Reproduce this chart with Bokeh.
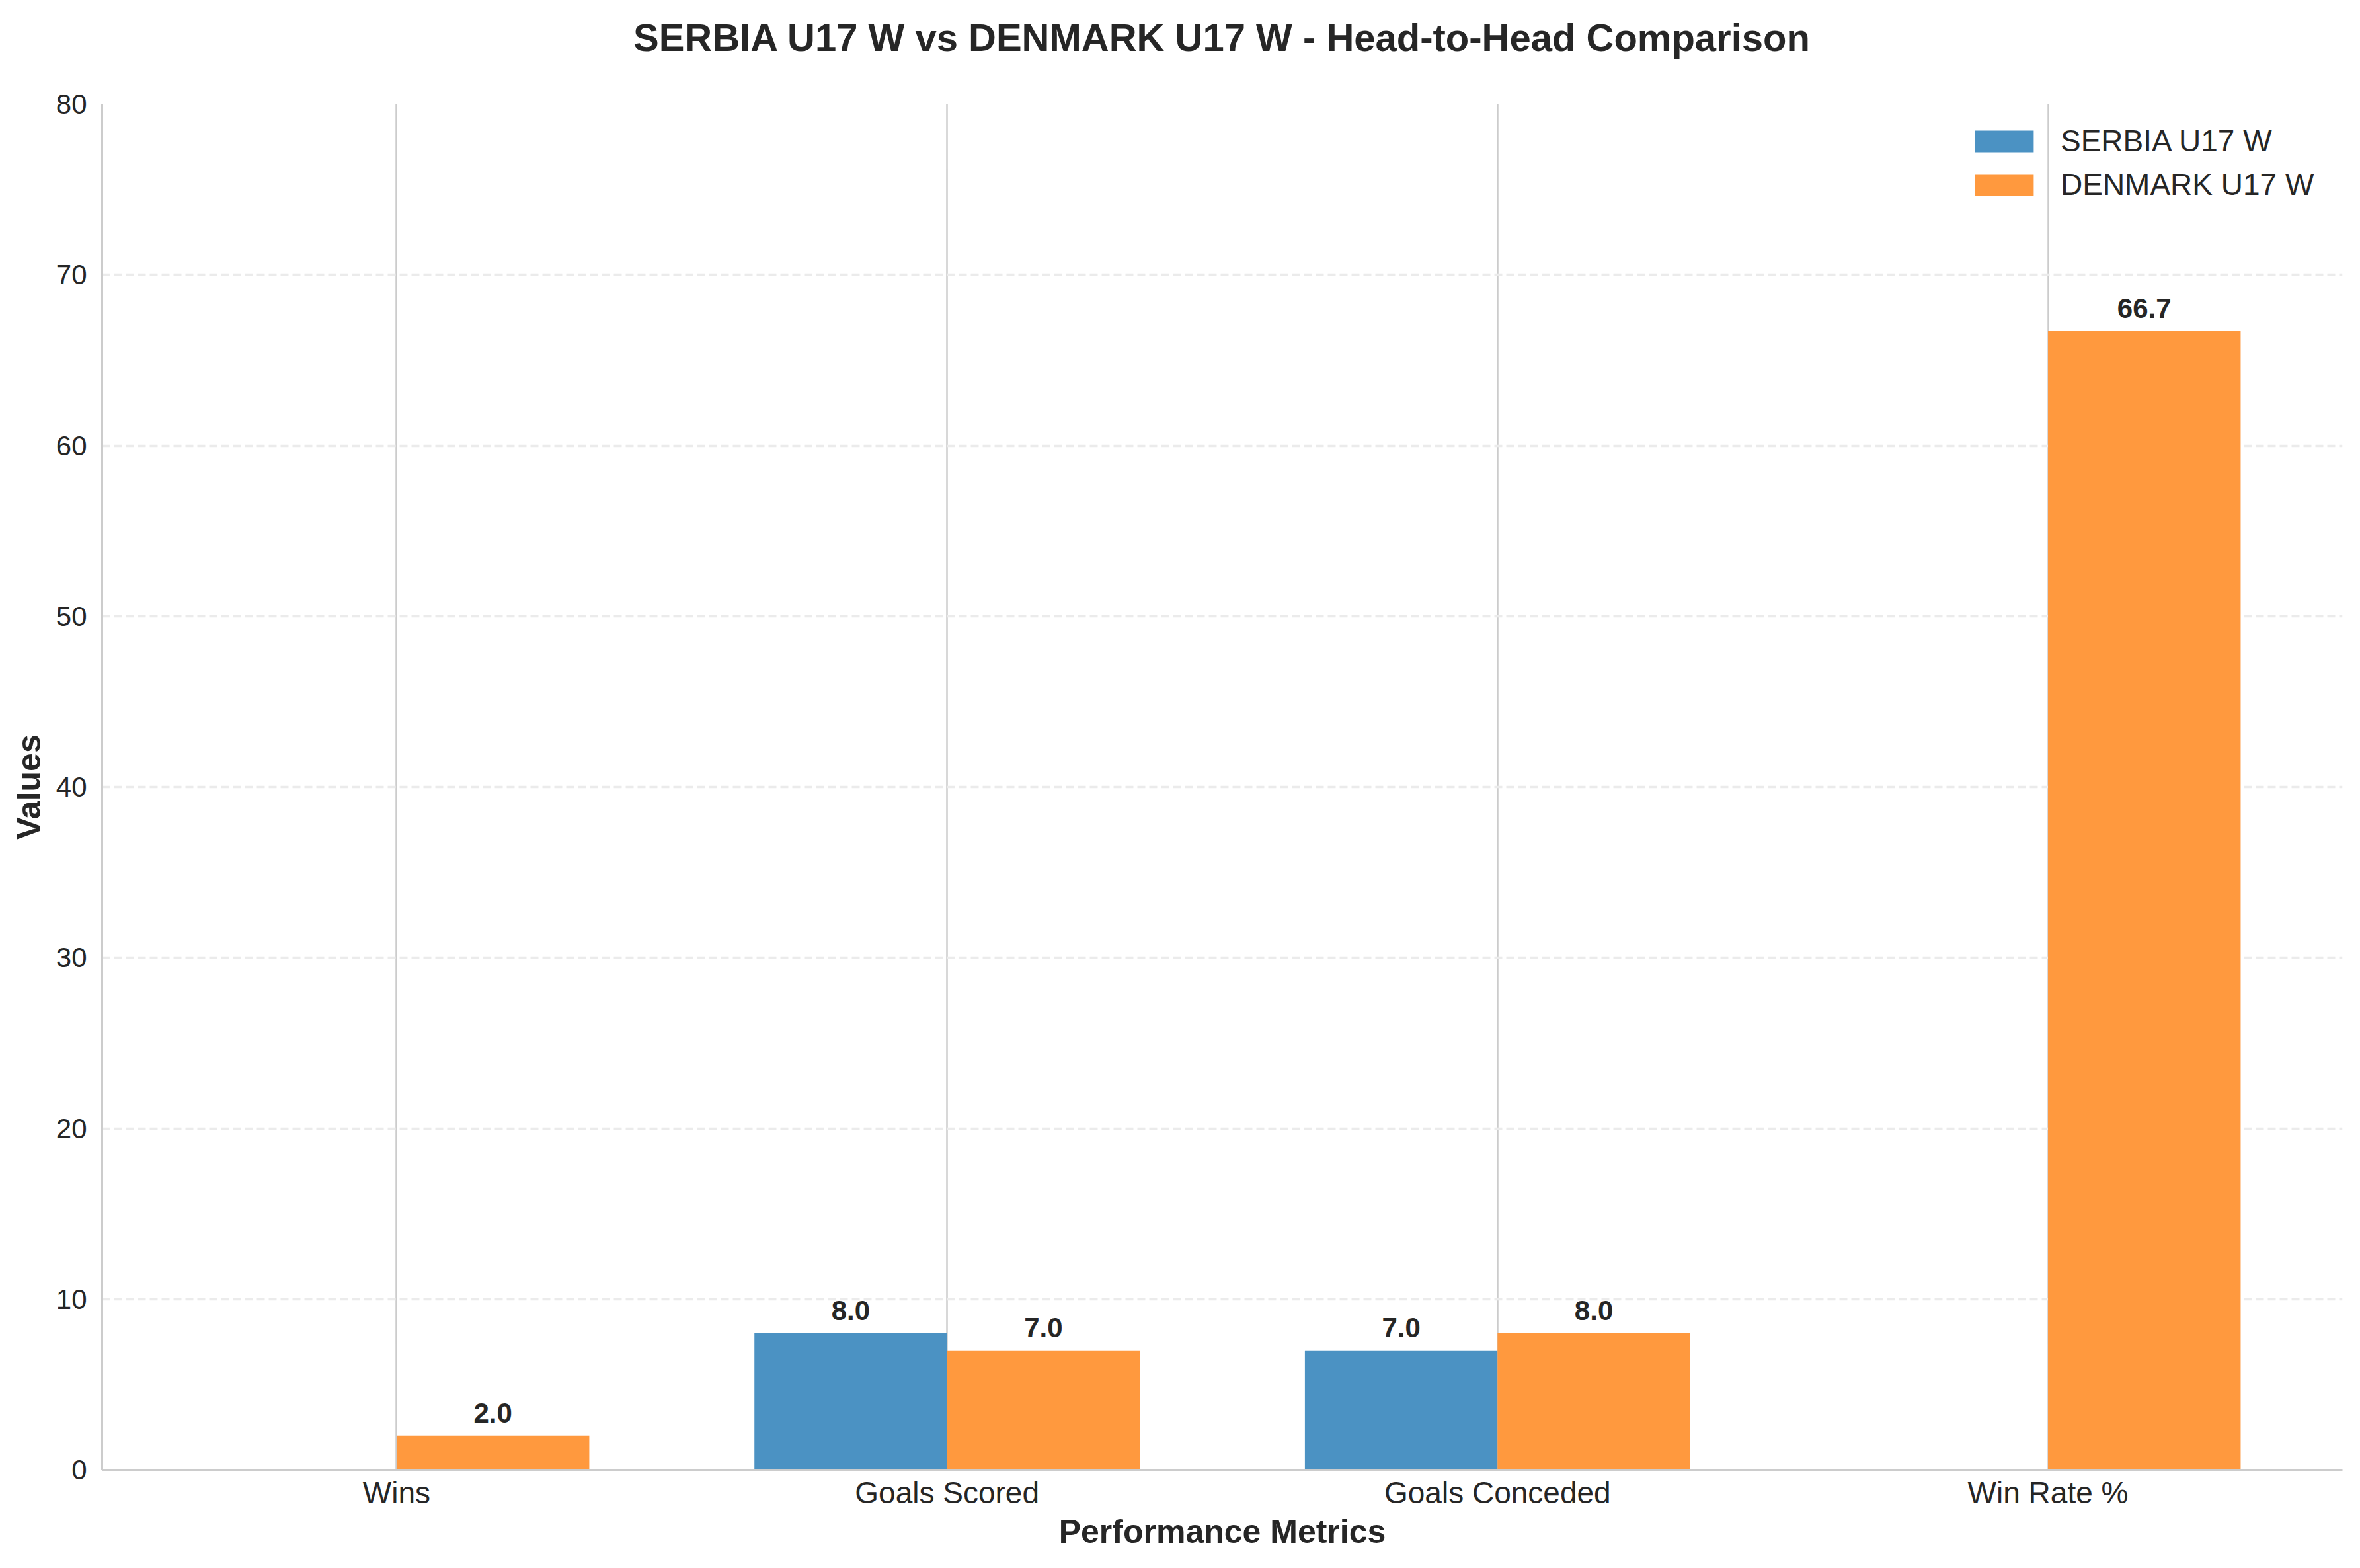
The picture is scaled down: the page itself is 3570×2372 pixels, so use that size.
from bokeh.plotting import figure
from bokeh.models import ColumnDataSource, FixedTicker, Legend, LegendItem, Range1d, LabelSet, Title
from bokeh.embed import file_html
from bokeh.resources import INLINE
from bokeh.core.properties import value

# ---- data ----
metrics = ["Wins", "Goals Scored", "Goals Conceded", "Win Rate %"]
serbia = [0.0, 8.0, 7.0, 0.0]
denmark = [2.0, 7.0, 8.0, 66.7]
teams = ["SERBIA U17 W", "DENMARK U17 W"]
team_colors = ["#4b92c3", "#ff993e"]
y_ticks = [0, 10, 20, 30, 40, 50, 60, 70, 80]
bar_width = 0.35

FONT = "Liberation Sans"
TXT = "#262626"

idx = list(range(len(metrics)))

p = figure(width=3570, height=2372, output_backend="svg", toolbar_location=None,
           x_range=Range1d(-0.535, 3.535), y_range=Range1d(0, 80),
           min_border_left=154, min_border_right=27, min_border_top=157, min_border_bottom=149)
p.outline_line_color = None
p.background_fill_color = "white"
p.border_fill_color = "white"

p.title.text = "SERBIA U17 W vs DENMARK U17 W - Head-to-Head Comparison"
p.title.align = "center"
p.title.text_font = FONT
p.title.text_font_size = "58px"
p.title.text_font_style = "bold"
p.title.text_color = TXT
p.title.standoff = 0

# spacer between title and plot frame
spacer = Title(text=" ", text_font_size="1px", standoff=66, text_color="white")
p.add_layout(spacer, "above")

renderers = []
for k, (vals, col) in enumerate(zip([serbia, denmark], team_colors)):
    off = (k - 0.5) * bar_width
    xs = [i + off for i in idx]
    src = ColumnDataSource(dict(x=xs, top=vals,
                                lab=[f"{v:.1f}" if v > 0 else "" for v in vals]))
    r = p.vbar(x="x", top="top", width=bar_width, bottom=0, source=src,
               fill_color=col, line_color=None)
    renderers.append(r)
    ls = LabelSet(x="x", y="top", text="lab", source=src, y_offset=20,
                  text_align="center", text_baseline="alphabetic",
                  text_font=value(FONT), text_font_size=value("42px"),
                  text_font_style=value("bold"), text_color=value(TXT))
    p.add_layout(ls)

# axes
p.xaxis.ticker = FixedTicker(ticks=idx)
p.xaxis.major_label_overrides = {i: m for i, m in zip(idx, metrics)}
p.yaxis.ticker = FixedTicker(ticks=y_ticks)
for ax in (p.xaxis[0], p.yaxis[0]):
    ax.axis_line_color = "#cccccc"
    ax.axis_line_width = 3
    ax.major_tick_line_color = None
    ax.minor_tick_line_color = None
    ax.major_label_text_font = FONT
    ax.major_label_text_color = TXT
    ax.axis_label_text_font = FONT
    ax.axis_label_text_font_size = "50px"
    ax.axis_label_text_font_style = "bold"
    ax.axis_label_text_color = TXT
p.xaxis.major_label_text_font_size = "46px"
p.yaxis.major_label_text_font_size = "42px"
p.xaxis.axis_label = "Performance Metrics"
p.yaxis.axis_label = "Values"
p.xaxis.major_label_standoff = 2
p.xaxis.axis_label_standoff = 2
p.yaxis.major_label_standoff = 17
p.yaxis.axis_label_standoff = 10

# grids
p.xgrid.grid_line_color = "#cccccc"
p.xgrid.grid_line_width = 2.5
p.ygrid.grid_line_color = "#ebebeb"
p.ygrid.grid_line_width = 3.3
p.ygrid.grid_line_dash = "12 6"

legend = Legend(items=[LegendItem(label=t, renderers=[r]) for t, r in zip(teams, renderers)],
                location="top_right", border_line_color=None, background_fill_alpha=0,
                label_text_font=FONT, label_text_font_size="46px", label_text_color=TXT,
                glyph_width=111, glyph_height=41, label_standoff=30, label_width=397,
                spacing=12, padding=22, margin=29)
p.add_layout(legend)

open("out.html", "w").write(file_html(p, INLINE))
